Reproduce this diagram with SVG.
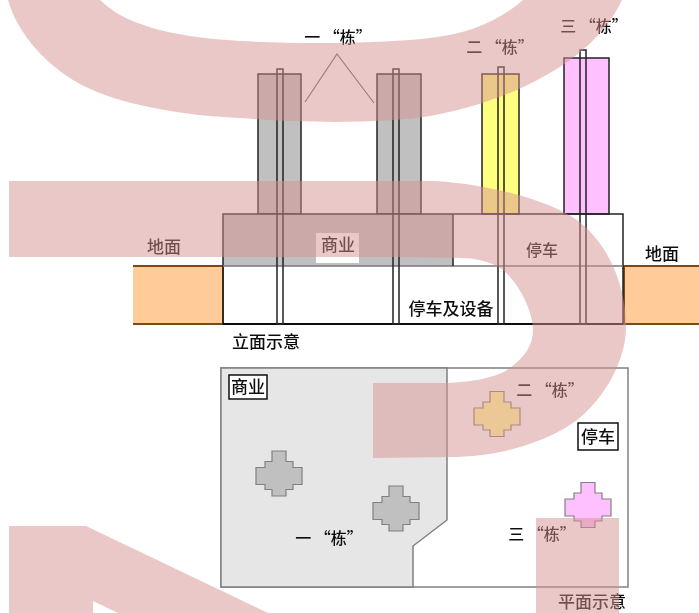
<svg xmlns="http://www.w3.org/2000/svg" width="699" height="613" viewBox="0 0 699 613">
<style>
text{font-family:"Noto Sans CJK SC","Liberation Sans",sans-serif;fill:#111;text-anchor:middle;font-weight:500}
.l{font-size:17px}
.q{font-size:16px}
.t{stroke:#222;stroke-width:1.5}
.p{fill:none;stroke:#222;stroke-width:1.5}
.g{fill:#ffcc99;stroke:none}
.e{stroke:#7a4a14;stroke-width:2;fill:none}
.c{stroke:#808080;stroke-width:1.2}
.b{fill:#fff;stroke:#111;stroke-width:1.5}
.w{fill:rgb(215,145,145);fill-opacity:.5;stroke:none}
</style>
<defs>
<polygon id="cross" points="-7,-22.5 7,-22.5 7,-12 14,-12 14,-6 23,-6 23,11 14,11 14,16 7,16 7,22.5 -7,22.5 -7,16 -14,16 -14,11 -23,11 -23,-6 -14,-6 -14,-12 -7,-12"/>
<filter id="soft" x="0" y="0" width="100%" height="100%"><feGaussianBlur stdDeviation="0.45"/></filter>
</defs>
<rect width="699" height="613" fill="#fff"/>
<g id="diagram" filter="url(#soft)">
<g id="ground-left"><rect class="g" x="133" y="266" width="90" height="58"/><path class="e" d="M133 266H223V324H133"/><text class="l" x="164" y="253">地面</text></g>
<g id="ground-right"><rect class="g" x="624" y="266" width="75" height="58"/><path class="e" d="M699 266H624V324H699"/><text class="l" x="662" y="260">地面</text></g>
<g id="tower-1a"><rect class="t" x="258" y="74" width="43" height="140" fill="#c0c0c0"/></g>
<g id="tower-1b"><rect class="t" x="377" y="74" width="44" height="140" fill="#c0c0c0"/></g>
<g id="tower-2"><rect class="t" x="482" y="74" width="37" height="140" fill="#ffff80"/></g>
<g id="tower-3"><rect class="t" x="564" y="58" width="45" height="156" fill="#ffc0ff"/></g>
<g id="podium">
<rect x="223" y="214" width="230" height="52" fill="#c0c0c0"/>
<rect x="223" y="214" width="400" height="110" fill="none" stroke="#222" stroke-width="1.5"/>
<path d="M223 266H623" stroke="#777" stroke-width="1.5" fill="none"/>
<path d="M453 214V266" stroke="#222" stroke-width="1.5" fill="none"/>
<path d="M223 324H623" stroke="#111" stroke-width="2" fill="none"/>
<rect x="316" y="233" width="43" height="30" fill="#fff"/>
<text class="l" x="338" y="251">商业</text>
<text class="q" x="542" y="256">停车</text>
<text class="l" x="451" y="315">停车及设备</text>
</g>
<g id="core-1"><rect class="p" x="277" y="69" width="6" height="255"/></g>
<g id="core-2"><rect class="p" x="393" y="69" width="6" height="255"/></g>
<g id="core-3"><rect class="p" x="498" y="67" width="6" height="257"/></g>
<g id="core-4"><rect class="p" x="580" y="50" width="6" height="274"/></g>
<g id="connectors"><path d="M305 102L337 54L374 103" fill="none" stroke="#666" stroke-width="1.2"/></g>
<g id="label-top"><text class="q" x="338" y="43">一 “栋”</text><text class="q" x="500" y="53">二 “栋”</text><text class="q" x="594" y="32">三 “栋”</text></g>
<g id="label-elevation"><text class="l" x="266" y="348">立面示意</text></g>
<g id="plan">
<rect x="221" y="368" width="407" height="219" fill="#fff" stroke="#808080" stroke-width="1.5"/>
<polygon points="221,368 447,368 447,520 413,546 413,587 221,587" fill="#e6e6e6" stroke="#808080" stroke-width="1.5"/>
</g>
<g id="plan-tower-1a"><use href="#cross" x="279" y="473.5" class="c" fill="#c0c0c0"/></g>
<g id="plan-tower-1b"><use href="#cross" x="396" y="508.5" class="c" fill="#c0c0c0"/></g>
<g id="plan-tower-2"><use href="#cross" x="497" y="414" class="c" fill="#ffff99"/></g>
<g id="plan-tower-3"><use href="#cross" x="588" y="505" class="c" fill="#ffc0ff"/></g>
<g id="plan-label-shop"><rect class="b" x="229" y="375" width="38" height="24"/><text class="l" x="248" y="393">商业</text></g>
<g id="plan-label-park"><rect class="b" x="578" y="423" width="40" height="27"/><text class="l" x="598" y="443">停车</text></g>
<g id="plan-labels"><text class="q" x="329" y="544">一 “栋”</text><text class="q" x="550" y="396">二 “栋”</text><text class="q" x="542" y="540">三 “栋”</text><text class="l" x="592" y="608">平面示意</text></g>
</g>
<g id="watermark">
<path class="w" d="M8 0C16 28 38 58 73 80C115 106 190 116 240 118C300 123 380 124 430 116C490 106 590 70 622 0H523C500 20 470 34 430 38C380 44 300 44 240 41C190 38 130 30 100 0Z"/>
<path class="w" d="M9 181H430C470 182 540 195 577 220C608 243 626 285 626 327C626 360 605 398 577 420C545 444 495 457 450 457L373 458V383H447C470 382 495 378 507 370C525 358 533 345 533 330C533 312 520 284 503 270C490 261 475 258 460 258L400 257H9Z"/>
<path class="w" d="M9 526H86L268 613H118L93 601V613H9Z"/>
<rect class="w" x="536" y="518" width="83" height="95"/>
</g>
</svg>
